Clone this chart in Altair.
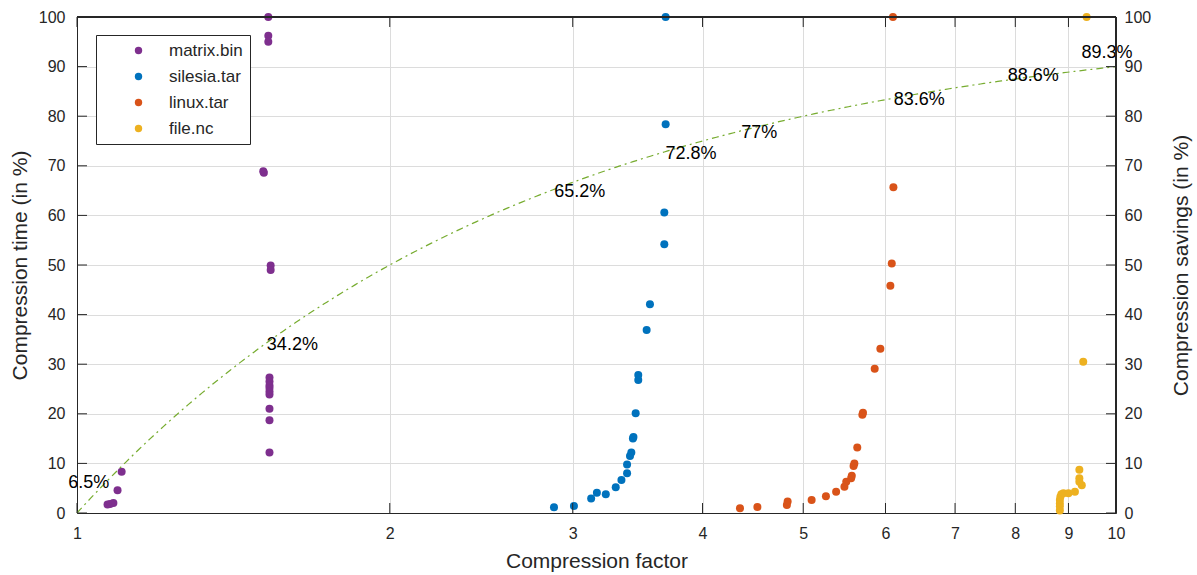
import altair as alt
import numpy as np
import pandas as pd

# ---------------- data ----------------
files = ["matrix.bin", "silesia.tar", "linux.tar", "file.nc"]
colors = ["#7E2F8E", "#0072BD", "#D95319", "#EDB120"]

matrix_factor = [1.070, 1.076, 1.084, 1.094, 1.104, 1.528, 1.528, 1.528, 1.511, 1.513,
                 1.536, 1.536, 1.532, 1.532, 1.532, 1.532, 1.532, 1.532, 1.532, 1.532, 1.532]
matrix_time = [1.7, 1.8, 2.0, 4.6, 8.3, 100.0, 96.2, 95.0, 68.9, 68.6,
               49.9, 49.0, 27.3, 26.5, 25.7, 25.2, 24.5, 23.9, 21.0, 18.7, 12.2]

silesia_factor = [2.878, 3.008, 3.125, 3.165, 3.228, 3.300, 3.342, 3.384, 3.384, 3.406, 3.416,
                  3.428, 3.432, 3.449, 3.469, 3.469, 3.534, 3.560, 3.675, 3.675, 3.686, 3.686]
silesia_time = [1.15, 1.4, 2.9, 4.1, 3.8, 5.2, 6.65, 8.0, 9.8, 11.5, 12.2,
                15.0, 15.3, 20.1, 26.8, 27.8, 36.9, 42.1, 54.2, 60.6, 78.4, 100.0]

linux_factor = [4.346, 4.517, 4.822, 4.830, 5.094, 5.258, 5.378, 5.478, 5.500, 5.560, 5.568,
                5.590, 5.600, 5.636, 5.700, 5.708, 5.858, 5.932, 6.065, 6.084, 6.106, 6.100]
linux_time = [0.94, 1.2, 1.6, 2.3, 2.6, 3.4, 4.3, 5.3, 6.3, 7.0, 7.5,
              9.5, 10.0, 13.2, 19.8, 20.2, 29.1, 33.1, 45.8, 50.3, 65.7, 100.0]

nc_factor = [8.83, 8.83, 8.83, 8.83, 8.84, 8.86, 8.90, 9.00, 9.13, 9.22, 9.27, 9.22, 9.22, 9.30, 9.37]
nc_time = [0.5, 1.3, 1.9, 2.6, 3.3, 3.8, 4.0, 4.0, 4.3, 6.3, 5.6, 7.0, 8.7, 30.5, 100.0]

savings_values = [6.5, 34.2, 65.2, 72.8, 77.0, 83.6, 88.6, 89.3]
savings_text = ["6.5%", "34.2%", "65.2%", "72.8%", "77%", "83.6%", "88.6%", "89.3%"]
label_group = ["right", "left", "left", "left", "left", "left", "right", "up"]

x_ticks = [1, 2, 3, 4, 5, 6, 7, 8, 9, 10]
y_ticks = [0, 10, 20, 30, 40, 50, 60, 70, 80, 90, 100]

# ---------------- tables ----------------
rows = []
for name, fx, ty in zip(files,
                        [matrix_factor, silesia_factor, linux_factor, nc_factor],
                        [matrix_time, silesia_time, linux_time, nc_time]):
    for a, b in zip(fx, ty):
        rows.append({"factor": a, "time": b, "file": name})
points = pd.DataFrame(rows)

cx = np.logspace(0, 1, 300)
curve = pd.DataFrame({"factor": cx, "savings": 100.0 * (1.0 - 1.0 / cx)})

labels = pd.DataFrame({
    "savings": savings_values,
    "factor": [1.0 / (1.0 - s / 100.0) for s in savings_values],
    "text": savings_text,
    "group": label_group,
})
xt = pd.DataFrame({"factor": x_ticks})
yt = pd.DataFrame({"time": y_ticks})

W, H = 1039, 496
FONT = "Liberation Sans"
INK = "#262626"
GRID = "#dcdcdc"

xscale = alt.Scale(type="log", domain=[1, 10], nice=False)
yscale = alt.Scale(domain=[0, 100], nice=False, zero=False)

x_axis = alt.Axis(values=x_ticks, format="d", title="Compression factor", grid=True,
                  gridColor=GRID, ticks=False, labelPadding=12, labelFontSize=16,
                  titleFontSize=21, titlePadding=9, labelFlush=False, orient="bottom")
y_left = alt.Axis(values=y_ticks, title="Compression time (in %)", orient="left", grid=True,
                  gridColor=GRID, ticks=False, labelPadding=12, labelFontSize=16,
                  titleFontSize=21, titlePadding=8, labelFlush=False)
y_right = alt.Axis(values=y_ticks, title="Compression savings (in %)", orient="right", grid=False,
                   ticks=False, labelPadding=8, labelFontSize=16, titleFontSize=21,
                   titlePadding=20, titleAngle=270, titleBaseline="top", labelFlush=False)

X = alt.X("factor:Q", scale=xscale, axis=x_axis)

pts = alt.Chart(points).mark_circle(size=64, opacity=1).encode(
    x=X,
    y=alt.Y("time:Q", scale=yscale, axis=y_left),
    color=alt.Color("file:N", scale=alt.Scale(domain=files, range=colors),
                    legend=alt.Legend(orient="none", legendX=19, legendY=18, title=None,
                                      strokeColor=INK, fillColor="white", padding=7,
                                      symbolOffset=27, labelOffset=22, rowPadding=8,
                                      labelFontSize=17, labelFont=FONT, labelColor=INK,
                                      symbolSize=55, symbolType="circle")),
)

line = alt.Chart(curve).mark_line(color="#77AC30", strokeWidth=1.2, strokeDash=[7, 4, 2, 4]).encode(
    x=X,
    y=alt.Y("savings:Q", scale=yscale, axis=y_right),
)

def text_layer(group, align, dx, dy):
    return alt.Chart(labels).transform_filter(alt.datum.group == group).mark_text(
        align=align, baseline="middle", dx=dx, dy=dy, fontSize=18, font=FONT, color="#000000"
    ).encode(
        x=X,
        y=alt.Y("savings:Q", scale=yscale, axis=None),
        text="text:N",
    )

t_left = text_layer("left", "left", 1, 2)
t_right = text_layer("right", "right", 2, 2)
t_up = text_layer("up", "left", -4, -17)

TL = 10
tick_bottom = alt.Chart(xt).mark_rule(color=INK).encode(
    x=X, y=alt.value(H), y2=alt.value(H - TL))
tick_top = alt.Chart(xt).mark_rule(color=INK).encode(
    x=X, y=alt.value(0), y2=alt.value(TL))
tick_left = alt.Chart(yt).mark_rule(color=INK).encode(
    y=alt.Y("time:Q", scale=yscale, axis=None), x=alt.value(0), x2=alt.value(TL))
tick_right = alt.Chart(yt).mark_rule(color=INK).encode(
    y=alt.Y("time:Q", scale=yscale, axis=None), x=alt.value(W), x2=alt.value(W - TL))

# frame (top and right edges of the box)
frame_top = alt.Chart(xt).mark_rule(color=INK, strokeWidth=1).encode(
    x=alt.value(0), x2=alt.value(W), y=alt.value(0))
frame_right = alt.Chart(xt).mark_rule(color=INK, strokeWidth=1).encode(
    x=alt.value(W), y=alt.value(0), y2=alt.value(H))

chart = alt.layer(
    pts, line, t_left, t_right, t_up, tick_bottom, tick_top, tick_left, tick_right,
    frame_top, frame_right
).resolve_scale(y="shared").resolve_axis(y="independent").properties(
    width=W, height=H,
    autosize=alt.AutoSizeParams(type="none"),
    padding={"left": 77, "top": 17, "right": 81, "bottom": 62},
    background="white",
).configure_view(
    stroke=INK, strokeWidth=1
).configure_axis(
    labelFont=FONT, titleFont=FONT, labelColor=INK, titleColor=INK,
    titleFontWeight="normal", domainColor=INK, domainWidth=1,
)

chart.save("out.html", embed_options={"renderer": "svg", "actions": False})
